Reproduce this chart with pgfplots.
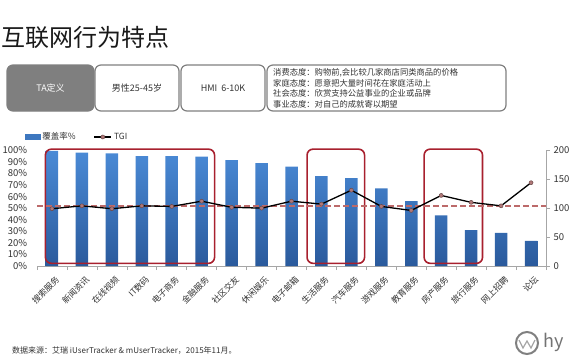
\documentclass[border=0pt]{standalone}
\usepackage{pgfplots}
\pgfplotsset{compat=1.18}
\usepackage{pgfplotstable}
\usepackage{fontspec}
\setmainfont{Noto Sans CJK SC}
\definecolor{barTop}{HTML}{4A8AD6}
\definecolor{barBot}{HTML}{2A5A9C}
\definecolor{boxRed}{HTML}{A8202E}
\definecolor{dashRed}{HTML}{BC6A6A}
\definecolor{mk}{HTML}{B07878}
\definecolor{grayB}{HTML}{7F7F7F}
\definecolor{txt}{HTML}{333333}

\pgfplotstableread{
idx cov tgi
0  99.5 99
1  98   104
2  97.4 99
3  95   104
4  95   103
5  94.5 112
6  91.6 101.5
7  89   100
8  86   112
9  77.7 107
10 76   131
11 67   103
12 56   96
13 43.8 122
14 31   110
15 28.7 104
16 21.7 144
}\data

\begin{document}
\begin{tikzpicture}
\useasboundingbox (0,0) rectangle (570pt,360pt);
% title
\node[anchor=west, inner sep=0pt, font=\fontsize{24}{24}\selectfont, text=black!90] at (1pt,323pt) {互联网行为特点};
% header boxes
\draw[grayB, fill=grayB, line width=1.2pt, rounded corners=6pt] (7pt,249pt) rectangle (94pt,295pt);
\draw[grayB, line width=1.2pt, rounded corners=6pt] (95pt,249pt) rectangle (179pt,295pt);
\draw[grayB, line width=1.2pt, rounded corners=6pt] (181pt,249pt) rectangle (265pt,295pt);
\draw[grayB, line width=1.2pt, rounded corners=6pt] (267pt,249pt) rectangle (506pt,295pt);
\node[text=white, font=\fontsize{9}{9}\selectfont] at (50.5pt,272pt) {TA定义};
\node[text=txt, font=\fontsize{9}{9}\selectfont] at (137pt,272pt) {男性25-45岁};
\node[text=txt, font=\fontsize{9}{9}\selectfont] at (223pt,272pt) {HMI\ \ 6-10K};
\begin{scope}[every node/.style={anchor=west, inner sep=0pt, text=txt, font=\fontsize{8.3}{8.3}\selectfont}]
\node at (273pt,287.3pt) {消费态度：购物前,会比较几家商店同类商品的价格};
\node at (273pt,277pt) {家庭态度：愿意把大量时间花在家庭活动上};
\node at (273pt,266.6pt) {社会态度：欣赏支持公益事业的企业或品牌};
\node at (273pt,256pt) {事业态度：对自己的成就寄以期望};
\end{scope}
% footer
\node[anchor=west, inner sep=0pt, text=txt, font=\fontsize{8}{8}\selectfont] at (12pt,9pt) {数据来源：艾瑞 iUserTracker \& mUserTracker，2015年11月。};
% logo
\draw[gray, line width=2pt] (527pt,17pt) circle (11pt);
\draw[gray!70, line width=1.2pt] (519pt,20pt) -- (523pt,12pt) -- (527pt,19pt) -- (531pt,12pt) -- (535pt,20pt);
\node[anchor=west, inner sep=0pt, text=gray!90!black, font=\fontsize{18}{18}\selectfont] at (543pt,18pt) {hy};

\begin{axis}[
  at={(37pt,94pt)}, anchor=south west,
  width=509pt, height=115.7pt, scale only axis,
  xmin=-0.5, xmax=16.5, ymin=0, ymax=100,
  clip=false,
  axis x line*=bottom, axis y line*=left,
  y axis line style={draw=none},
  x axis line style={draw=gray!70, line width=0.8pt},
  xtick={0,...,16},
  xticklabels={搜索服务,新闻资讯,在线视频,IT数码,电子商务,金融服务,社区交友,休闲娱乐,电子邮箱,生活服务,汽车服务,游戏服务,教育服务,房产服务,旅行服务,网上招聘,论坛},
  x tick label style={rotate=45, anchor=north east, font=\fontsize{8.5}{8.5}\selectfont, text=txt, yshift=-2pt, xshift=2pt},
  major x tick style={draw=none},
  minor xtick={-0.5,0.5,...,16.5},
  minor x tick style={draw=gray!70, line width=0.6pt},
  minor tick length=4pt,
  tick align=outside,
  ytick={0,10,...,100},
  yticklabel={\pgfmathprintnumber{\tick}\%},
  y tick label style={font=\fontsize{9.5}{9.5}\selectfont, text=txt, xshift=-2pt},
  major y tick style={draw=none},
  /pgf/number format/assume math mode=true,
]
\addplot[ybar, bar width=12.5pt, draw=none, top color=barTop, bottom color=barBot] table[x=idx, y=cov] {\data};
\draw[boxRed, line width=1.6pt, rounded corners=6pt] (axis cs:-0.22,2.3) rectangle (axis cs:5.43,101);
\draw[boxRed, line width=1.6pt, rounded corners=6pt] (axis cs:8.52,2.3) rectangle (axis cs:10.44,101);
\draw[boxRed, line width=1.6pt, rounded corners=6pt] (axis cs:12.43,2.3) rectangle (axis cs:14.38,101);
\end{axis}

\begin{axis}[
  at={(37pt,94pt)}, anchor=south west,
  width=509pt, height=115.7pt, scale only axis,
  xmin=-0.5, xmax=16.5, ymin=0, ymax=200,
  axis x line=none, axis y line*=right,
  y axis line style={draw=gray!70, line width=0.8pt},
  ytick={0,50,...,200},
  y tick label style={font=\fontsize{9.5}{9.5}\selectfont, text=txt},
  major y tick style={draw=gray!70, line width=0.6pt},
  major tick length=4pt, tick align=outside,
  /pgf/number format/assume math mode=true,
  legend columns=2,
  legend style={draw=none, fill=none, at={(-0.03,1.115)}, anchor=west, font=\fontsize{8.5}{8.5}\selectfont, text=txt,
    /tikz/every even column/.append style={column sep=16pt}},
]
\addlegendimage{legend image code/.code={\fill[barTop!60!barBot] (0pt,-2.5pt) rectangle (15pt,2.5pt);}}
\addlegendentry{覆盖率\%}
\addplot[dashRed, line width=1.4pt, dash pattern=on 6pt off 3pt, forget plot] coordinates {(-0.5,104) (16.5,104)};
\addplot[black, line width=1.3pt, mark=*, mark size=2pt, mark options={fill=mk, draw=mk!60!black, line width=0.5pt}] table[x=idx, y=tgi] {\data};
\addlegendentry{TGI}
\end{axis}
\end{tikzpicture}
\end{document}
